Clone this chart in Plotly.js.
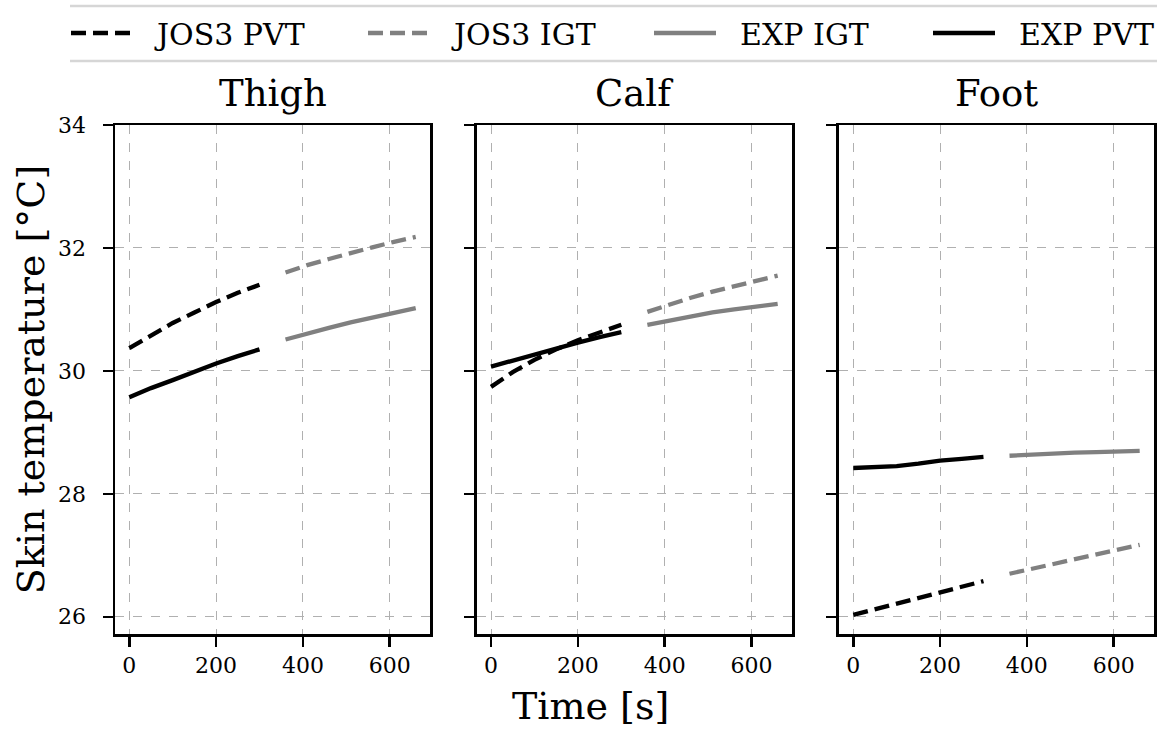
<!DOCTYPE html>
<html>
<head>
<meta charset="utf-8">
<script src="https://cdn.plot.ly/plotly-3.0.1.min.js"></script>
<style>html,body{margin:0;padding:0;background:#fff;}#chart{width:1157px;height:729px;}</style>
</head>
<body>
<div id="chart"></div>
<script>
// ---- data ----
const panels = ["Thigh", "Calf", "Foot"];
const timePVT = [0, 50, 100, 150, 200, 250, 300];
const timeIGT = [360, 410, 460, 510, 560, 610, 660];

const thighJosPVT = [30.37, 30.57, 30.78, 30.95, 31.12, 31.27, 31.40];
const thighJosIGT = [31.60, 31.72, 31.82, 31.92, 32.01, 32.10, 32.18];
const thighExpIGT = [30.51, 30.61, 30.70, 30.79, 30.87, 30.95, 31.02];
const thighExpPVT = [29.57, 29.72, 29.85, 29.99, 30.12, 30.24, 30.35];

const calfJosPVT = [29.74, 29.98, 30.18, 30.35, 30.50, 30.63, 30.75];
const calfJosIGT = [30.96, 31.08, 31.19, 31.29, 31.38, 31.47, 31.55];
const calfExpIGT = [30.75, 30.82, 30.89, 30.95, 31.00, 31.05, 31.09];
const calfExpPVT = [30.07, 30.17, 30.27, 30.37, 30.46, 30.55, 30.63];

const footJosPVT = [26.03, 26.12, 26.21, 26.30, 26.40, 26.49, 26.58];
const footJosIGT = [26.70, 26.78, 26.86, 26.94, 27.02, 27.10, 27.17];
const footExpIGT = [28.62, 28.64, 28.66, 28.67, 28.68, 28.69, 28.70];
const footExpPVT = [28.42, 28.43, 28.45, 28.49, 28.54, 28.57, 28.60];

const seriesNames = ["JOS3 PVT", "JOS3 IGT", "EXP IGT", "EXP PVT"];
const xTicks = [0, 200, 400, 600];
const yTicks = [26, 28, 30, 32, 34];

// ---- styling ----
const FONT = "DejaVu Serif";
const BLACK = "#000000", GRAY = "#808080";
const DASH = "15px,7px";
const LW = 4.3;
const PAD = "\u00a0\u00a0";
const styles = {
  "JOS3 PVT": {color: BLACK, dash: DASH, t: timePVT, legend: "legend"},
  "JOS3 IGT": {color: GRAY, dash: DASH, t: timeIGT, legend: "legend2"},
  "EXP IGT": {color: GRAY, dash: "solid", t: timeIGT, legend: "legend3"},
  "EXP PVT": {color: BLACK, dash: "solid", t: timePVT, legend: "legend4"}
};
const panelData = [
  {"JOS3 PVT": thighJosPVT, "JOS3 IGT": thighJosIGT, "EXP IGT": thighExpIGT, "EXP PVT": thighExpPVT},
  {"JOS3 PVT": calfJosPVT, "JOS3 IGT": calfJosIGT, "EXP IGT": calfExpIGT, "EXP PVT": calfExpPVT},
  {"JOS3 PVT": footJosPVT, "JOS3 IGT": footJosIGT, "EXP IGT": footExpIGT, "EXP PVT": footExpPVT}
];

const traces = [];
panelData.forEach((pd, i) => {
  const ax = i === 0 ? "" : String(i + 1);
  seriesNames.forEach(name => {
    const s = styles[name];
    traces.push({
      type: "scatter", mode: "lines",
      x: s.t, y: pd[name], name: PAD + name,
      legendgroup: name, showlegend: i === 0, legend: s.legend,
      xaxis: "x" + ax, yaxis: "y" + ax,
      line: {color: s.color, width: LW, dash: s.dash},
      hoverinfo: "skip"
    });
  });
});

const W = 1157, H = 729;
const mL = 115, mR = 3, mT = 125, mB = 95;
const pw = W - mL - mR, ph = H - mT - mB;
const px2x = p => (p - mL) / pw;
const px2y = p => (H - mB - p) / ph;

const domains = [[0, 0.3032], [0.3481, 0.6516], [0.6968, 1]];

function xAxis(i) {
  return {
    domain: domains[i], range: [-33, 693],
    tickvals: xTicks, ticktext: xTicks.map(String),
    ticks: "outside", ticklen: 10, tickwidth: 2.5, tickcolor: BLACK,
    showline: true, linewidth: 2.5, linecolor: BLACK, mirror: true,
    showgrid: true, gridcolor: "#b0b0b0", gridwidth: 1, griddash: "dash",
    zeroline: false, tickfont: {family: FONT, size: 22, color: "#000"},
    ticklabelstandoff: 0,
    anchor: i === 0 ? "y" : "y" + (i + 1)
  };
}
function yAxis(i) {
  const a = {
    domain: [0, 1], range: [25.72, 34],
    tickvals: yTicks, ticktext: yTicks.map(String),
    showticklabels: i === 0,
    ticks: "outside", ticklen: 10, tickwidth: 2.5, tickcolor: BLACK,
    showline: true, linewidth: 2.5, linecolor: BLACK, mirror: true,
    showgrid: true, gridcolor: "#b0b0b0", gridwidth: 1, griddash: "dash",
    zeroline: false, tickfont: {family: FONT, size: 22, color: "#000"},
    ticklabelstandoff: 12,
    anchor: i === 0 ? "x" : "x" + (i + 1)
  };
  if (i === 0) {
    a.title = {text: "Skin temperature [°C]", font: {family: FONT, size: 38, color: "#000"}, standoff: 2};
  }
  return a;
}

const annotations = panels.map((p, i) => ({
  text: p, xref: "paper", yref: "paper",
  x: (domains[i][0] + domains[i][1]) / 2, y: px2y(93),
  xanchor: "center", yanchor: "middle", showarrow: false,
  font: {family: FONT, size: 37, color: "#000"}
}));
annotations.push({
  text: "Time [s]", xref: "paper", yref: "paper",
  x: px2x(590), y: px2y(706), xanchor: "center", yanchor: "middle",
  showarrow: false, font: {family: FONT, size: 38, color: "#000"}
});

function legendAt(px) {
  return {
    orientation: "h", xref: "container", yref: "container",
    x: px / W, y: 1 - 33 / H, xanchor: "left", yanchor: "middle",
    font: {family: FONT, size: 30, color: "#000"},
    itemwidth: 62,
    bgcolor: "rgba(0,0,0,0)", borderwidth: 0
  };
}

const layout = {
  width: W, height: H,
  margin: {l: mL, r: mR, t: mT, b: mB, autoexpand: false},
  paper_bgcolor: "#fff", plot_bgcolor: "#fff",
  font: {family: FONT, color: "#000"},
  showlegend: true,
  legend: legendAt(66), legend2: legendAt(363), legend3: legendAt(649), legend4: legendAt(928),
  xaxis: xAxis(0), xaxis2: xAxis(1), xaxis3: xAxis(2),
  yaxis: yAxis(0), yaxis2: yAxis(1), yaxis3: yAxis(2),
  annotations: annotations,
  shapes: [
    {type: "line", xref: "paper", yref: "paper", x0: px2x(70), x1: px2x(1160), y0: px2y(6), y1: px2y(6), line: {color: "#d6d6d6", width: 2.5}},
    {type: "line", xref: "paper", yref: "paper", x0: px2x(70), x1: px2x(1160), y0: px2y(61), y1: px2y(61), line: {color: "#d6d6d6", width: 2.5}}
  ]
};

Plotly.newPlot("chart", traces, layout, {displayModeBar: false, staticPlot: true});
</script>
</body>
</html>
